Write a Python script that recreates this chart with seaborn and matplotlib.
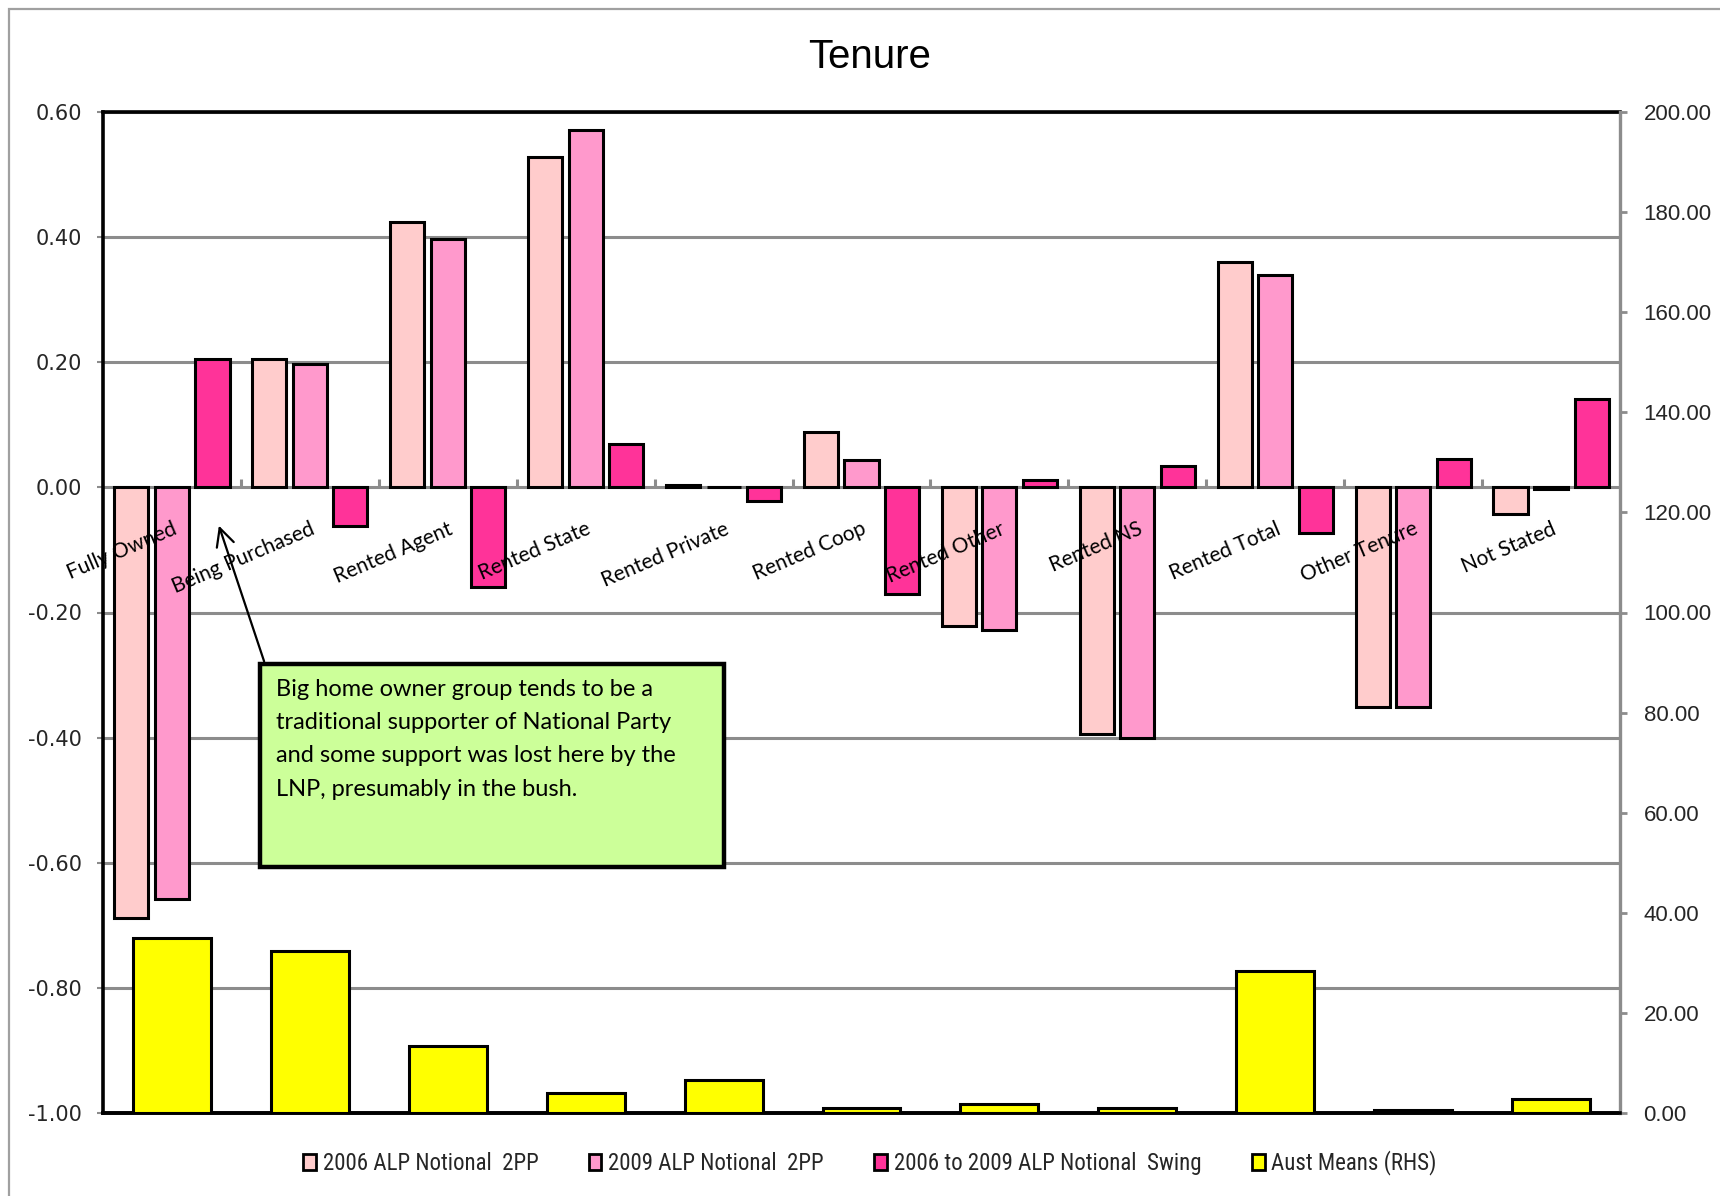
import numpy as np
import pandas as pd
import matplotlib
matplotlib.use("Agg")
import matplotlib.pyplot as plt
from matplotlib import font_manager
from matplotlib.patches import Patch, Rectangle, FancyArrowPatch
import seaborn as sns

# ---- data -------------------------------------------------------------
categories = ["Fully Owned", "Being Purchased", "Rented Agent", "Rented State",
              "Rented Private", "Rented Coop", "Rented Other", "Rented NS",
              "Rented Total", "Other Tenure", "Not Stated"]
alp_2006_2pp = [-0.688, 0.205, 0.424, 0.528, 0.004, 0.088, -0.222, -0.394, 0.361, -0.351, -0.043]
alp_2009_2pp = [-0.658, 0.198, 0.397, 0.571, 0.001, 0.043, -0.228, -0.401, 0.340, -0.351, -0.003]
alp_swing = [0.205, -0.061, -0.160, 0.070, -0.022, -0.171, 0.011, 0.034, -0.073, 0.046, 0.142]
aust_means = [34.9, 32.4, 13.3, 3.9, 6.6, 0.9, 1.7, 0.9, 28.3, 0.6, 2.8]

series_names = ["2006 ALP Notional  2PP", "2009 ALP Notional  2PP",
                "2006 to 2009 ALP Notional  Swing"]
rhs_name = "Aust Means (RHS)"
series_colors = ["#FFCCCC", "#FF99CC", "#FF3399"]
rhs_color = "#FFFF00"

left_ticks = [-1.0, -0.8, -0.6, -0.4, -0.2, 0.0, 0.2, 0.4, 0.6]
right_ticks = [0, 20, 40, 60, 80, 100, 120, 140, 160, 180, 200]

note_text = ("Big home owner group tends to be a\n"
             "traditional supporter of National Party\n"
             "and some support was lost here by the\n"
             "LNP, presumably in the bush.")

# ---- fonts ------------------------------------------------------------
def pick(*names):
    for n in names:
        try:
            font_manager.findfont(font_manager.FontProperties(family=n),
                                  fallback_to_default=False)
            return n
        except Exception:
            continue
    return "DejaVu Sans"

sns.set_style("white")
plt.rcParams["axes.unicode_minus"] = False
F_ARIAL = pick("Liberation Sans", "Arimo")
F_NARROW = pick("Liberation Sans Narrow", "DejaVu Sans Condensed", "Roboto Condensed")
F_CAL = pick("Lato", "Open Sans", "Noto Sans")
F_VERD = pick("DejaVu Sans")

# ---- tidy frames ------------------------------------------------------
long_df = pd.DataFrame({
    "category": np.repeat(categories, 3),
    "series": series_names * len(categories),
    "value": np.column_stack([alp_2006_2pp, alp_2009_2pp, alp_swing]).ravel(),
})
rhs_df = pd.DataFrame({"category": categories, "value": aust_means})

W, H = 1720, 1196
fig = plt.figure(figsize=(W / 100, H / 100), dpi=100)
fig.patch.set_facecolor("white")

def fx(px):
    return px / W

def fy(py):
    return 1 - py / H

ax = fig.add_axes([fx(103), fy(1113), fx(1620) - fx(103), fy(112) - fy(1113)])
ax2 = ax.twinx()

edge_kw = dict(edgecolor="black", linewidth=2.2)

sns.barplot(data=long_df, x="category", y="value", hue="series",
            order=categories, hue_order=series_names, palette=series_colors,
            saturation=1, width=0.882, gap=0.16, errorbar=None, legend=False,
            ax=ax, zorder=3, **edge_kw)

sns.barplot(data=rhs_df, x="category", y="value", order=categories,
            color=rhs_color, saturation=1, width=0.565, errorbar=None,
            ax=ax2, zorder=3, **edge_kw)

ncat = len(categories)
for a in (ax, ax2):
    a.set_xlim(-0.5, ncat - 0.5)
    a.set_xlabel("")
    a.set_ylabel("")
    a.set_xticks([])

# primary axis
ax.set_ylim(-1.0, 0.6)
ax.set_yticks(left_ticks)
ax.set_yticklabels([f"{round(v, 2) + 0.0:.2f}" for v in left_ticks],
                   fontfamily=F_VERD, fontsize=15)
ax.yaxis.grid(True, color="#8c8c8c", linewidth=2.2, zorder=0)
ax.set_axisbelow(True)
ax.tick_params(axis="y", length=4, width=1.5, color="#8c8c8c", pad=11)
for s in ("left", "top", "bottom"):
    ax.spines[s].set_color("black")
    ax.spines[s].set_linewidth(2.6)
ax.spines["right"].set_visible(False)

# category tick marks on the zero line
for k in range(ncat - 1):
    ax.plot([k + 0.5, k + 0.5], [0, 0.014], color="#8c8c8c", lw=2.2,
            zorder=2, solid_capstyle="butt")

# secondary axis
ax2.set_ylim(0, 200)
ax2.set_yticks(right_ticks)
ax2.set_yticklabels([f"{v:.2f}" for v in right_ticks], fontfamily=F_ARIAL, fontsize=16)
ax2.tick_params(axis="y", length=5, width=2, color="#8c8c8c", pad=12)
ax2.spines["right"].set_color("#8c8c8c")
ax2.spines["right"].set_linewidth(2.4)
for s in ("left", "top"):
    ax2.spines[s].set_visible(False)
ax2.spines["bottom"].set_color("black")
ax2.spines["bottom"].set_linewidth(2.6)
ax2.grid(False)

# rotated category labels sitting just under the zero line
for i, name in enumerate(categories):
    ax.text(i, -0.05, name, rotation=23, rotation_mode="anchor",
            ha="right", va="top", fontsize=15, fontfamily=F_CAL,
            color="black", zorder=6)

# title
fig.text(fx(870), fy(57), "Tenure", ha="center", va="center",
         fontsize=29, fontfamily=F_ARIAL, color="black")

# outer chart frame
fig.patches.append(Rectangle((fx(9), -0.1), 1.2, fy(9) + 0.1, transform=fig.transFigure,
                             fill=False, edgecolor="#a0a0a0", linewidth=1.6))

# callout box with arrow
fig.patches.append(Rectangle((fx(260), fy(867)), fx(724) - fx(260), fy(664) - fy(867),
                             transform=fig.transFigure, facecolor="#CCFF99",
                             edgecolor="black", linewidth=3.2, zorder=10))
fig.text(fx(276), fy(679), note_text, ha="left", va="top", fontsize=17,
         fontfamily=F_CAL, linespacing=1.72, color="black", zorder=11)
fig.add_artist(FancyArrowPatch(
    (fx(265), fy(664)), (fx(218), fy(523)), transform=fig.transFigure,
    arrowstyle="->,head_length=8,head_width=4", mutation_scale=1.6,
    color="black", linewidth=1.6, zorder=9))

# legend
handles = [Patch(facecolor=c, edgecolor="black", linewidth=2) for c in series_colors]
handles.append(Patch(facecolor=rhs_color, edgecolor="black", linewidth=2))
fig.legend(handles, series_names + [rhs_name], loc="center",
           bbox_to_anchor=(fx(870), fy(1163)), ncol=4, frameon=False,
           prop={"family": F_NARROW, "size": 16.5}, handlelength=0.55,
           handleheight=0.7, handletextpad=0.3, columnspacing=2.2)

fig.savefig("out.png", dpi=100, facecolor="white")
